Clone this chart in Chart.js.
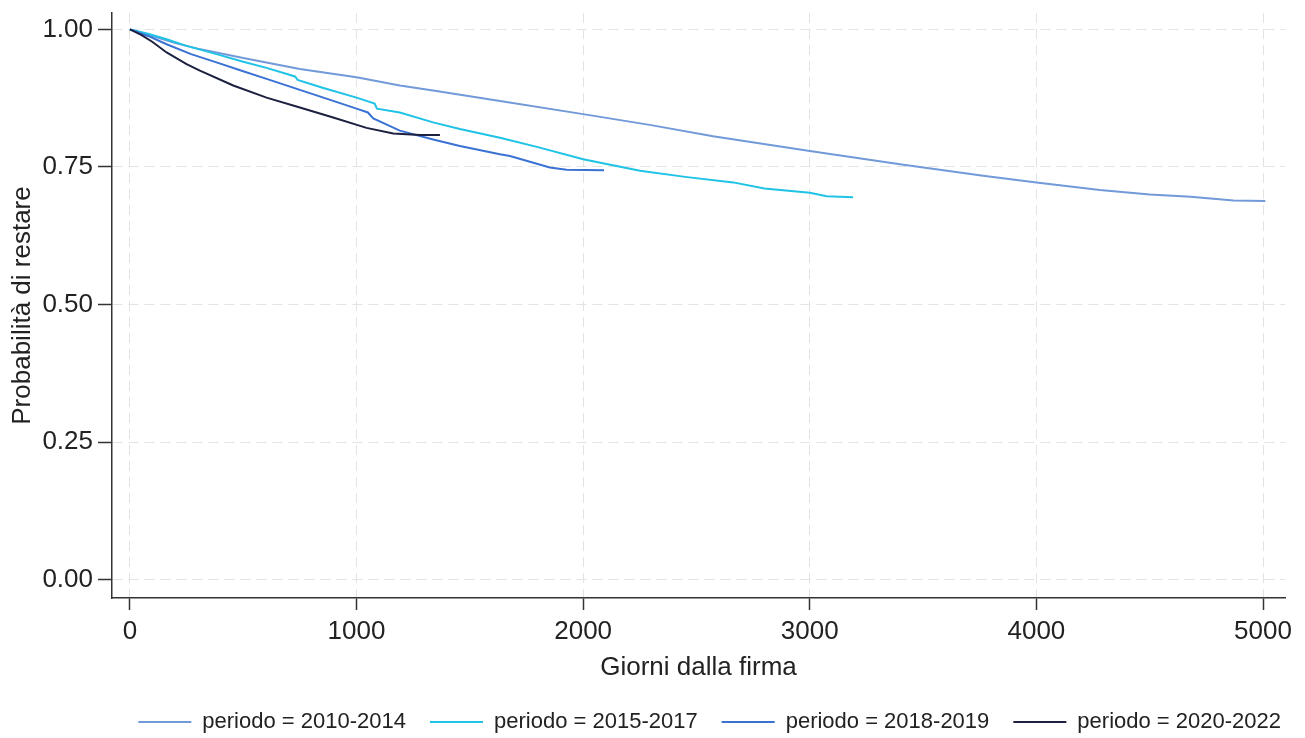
<!DOCTYPE html>
<html>
<head>
<meta charset="utf-8">
<script src="https://cdn.jsdelivr.net/npm/chart.js@4.4.1/dist/chart.umd.min.js"></script>
<style>
html,body{margin:0;padding:0;background:#ffffff;}
#wrap{width:1305px;height:738px;position:relative;}
</style>
</head>
<body>
<div id="wrap"><canvas id="c" width="1305" height="738"></canvas></div>
<script>
// ---- Data ----
const seriesLabels = ["periodo = 2010-2014", "periodo = 2015-2017", "periodo = 2018-2019", "periodo = 2020-2022"];
const seriesColors = ["#7299d8", "#1fc3e6", "#3a72d4", "#1c2140"];

const days2010_2014 = [0, 50, 100, 200, 300, 382, 500, 750, 1000, 1191, 1338, 1633, 2000, 2300, 2573, 3000, 3398, 3765, 4000, 4280, 4500, 4680, 4870, 5010];
const surv2010_2014 = [1.000, 0.994, 0.988, 0.975, 0.965, 0.958, 0.948, 0.928, 0.913, 0.898, 0.889, 0.870, 0.846, 0.826, 0.806, 0.779, 0.755, 0.734, 0.722, 0.708, 0.700, 0.696, 0.689, 0.688];

const days2015_2017 = [0, 80, 162, 250, 382, 500, 603, 700, 730, 740, 850, 1000, 1080, 1090, 1191, 1338, 1456, 1633, 1800, 2000, 2251, 2450, 2662, 2800, 3000, 3075, 3191];
const surv2015_2017 = [1.000, 0.992, 0.982, 0.970, 0.955, 0.941, 0.930, 0.918, 0.914, 0.908, 0.894, 0.876, 0.865, 0.856, 0.849, 0.831, 0.819, 0.803, 0.786, 0.764, 0.743, 0.732, 0.722, 0.711, 0.703, 0.697, 0.695];

const days2018_2019 = [0, 80, 162, 270, 382, 500, 603, 750, 897, 1000, 1050, 1074, 1191, 1338, 1456, 1633, 1677, 1853, 1927, 2092];
const surv2018_2019 = [1.000, 0.988, 0.973, 0.955, 0.940, 0.924, 0.910, 0.890, 0.870, 0.856, 0.849, 0.838, 0.816, 0.800, 0.788, 0.773, 0.770, 0.749, 0.745, 0.744];

const days2020_2022 = [0, 50, 100, 162, 250, 309, 456, 603, 750, 897, 1044, 1162, 1280, 1368];
const surv2020_2022 = [1.000, 0.990, 0.977, 0.958, 0.937, 0.925, 0.898, 0.876, 0.858, 0.840, 0.821, 0.811, 0.808, 0.808];

const xTickValues = [0, 1000, 2000, 3000, 4000, 5000];
const yTickValues = [0, 0.25, 0.5, 0.75, 1.0];
const xTitle = "Giorni dalla firma";
const yTitle = "Probabilità di restare";

// ---- Build chart ----
const allDays = [days2010_2014, days2015_2017, days2018_2019, days2020_2022];
const allSurv = [surv2010_2014, surv2015_2017, surv2018_2019, surv2020_2022];

const FONT = "'Liberation Sans', Arial, Helvetica, sans-serif";

const datasets = seriesLabels.map((lab, i) => ({
  label: lab,
  data: allDays[i].map((d, k) => ({x: d, y: allSurv[i][k]})),
  borderColor: seriesColors[i],
  backgroundColor: seriesColors[i],
  borderWidth: 2,
  pointRadius: 0,
  pointHoverRadius: 0,
  tension: 0,
  fill: false,
  order: 4 - i
}));

new Chart(document.getElementById('c'), {
  type: 'line',
  data: { datasets },
  options: {
    responsive: false,
    animation: false,
    layout: { padding: { top: 13, right: 0, left: 0, bottom: -5 } },
    plugins: {
      tooltip: { enabled: false },
      legend: {
        position: 'bottom',
        align: 'end',
        fullSize: true,
        labels: {
          font: { family: FONT, size: 22 },
          color: '#222',
          boxWidth: 53,
          boxHeight: 2,
          padding: 24,
          sort: (a, b) => a.datasetIndex - b.datasetIndex,
          generateLabels: (chart) => Chart.defaults.plugins.legend.labels.generateLabels(chart)
            .map(l => Object.assign(l, { lineWidth: 0, fillStyle: seriesColors[l.datasetIndex] }))
        }
      }
    },
    scales: {
      x: {
        type: 'linear',
        min: -79,
        max: 5097,
        afterFit: (s) => { s.height = 89; },
        afterBuildTicks: (s) => { s.ticks = xTickValues.map(v => ({ value: v })); },
        ticks: {
          includeBounds: false,
          font: { family: FONT, size: 26 },
          color: '#222',
          padding: 6,
          maxRotation: 0,
          callback: (v) => String(v)
        },
        grid: {
          color: '#e3e3e3',
          lineWidth: 1,
          tickColor: '#333',
          tickLength: 12,
          tickWidth: 1.5
        },
        border: { display: true, color: '#333', width: 1.5, dash: [10, 6] },
        title: {
          display: true,
          text: xTitle,
          font: { family: FONT, size: 26 },
          color: '#222',
          padding: { top: 0, bottom: 4 }
        }
      },
      y: {
        type: 'linear',
        min: -0.033,
        max: 1.0297,
        afterFit: (s) => { s.width = 112; s.paddingTop = 0; s.paddingBottom = 0; },
        afterBuildTicks: (s) => { s.ticks = yTickValues.map(v => ({ value: v })); },
        ticks: {
          includeBounds: false,
          font: { family: FONT, size: 26 },
          color: '#222',
          padding: 5,
          callback: (v) => Number(v).toFixed(2)
        },
        grid: {
          color: '#e3e3e3',
          lineWidth: 1,
          tickColor: '#333',
          tickLength: 14,
          tickWidth: 1.5
        },
        border: { display: true, color: '#333', width: 1.5, dash: [10, 6] },
        title: {
          display: true,
          text: yTitle,
          font: { family: FONT, size: 26 },
          color: '#222',
          padding: { top: 7, bottom: 0 }
        }
      },
      yRightSpacer: {
        type: 'linear',
        position: 'right',
        display: true,
        afterFit: (s) => { s.width = 20; s.paddingTop = 0; s.paddingBottom = 0; },
        ticks: { display: false },
        grid: { display: false, drawTicks: false },
        border: { display: false },
        title: { display: false }
      }
    }
  }
});
</script>
</body>
</html>
